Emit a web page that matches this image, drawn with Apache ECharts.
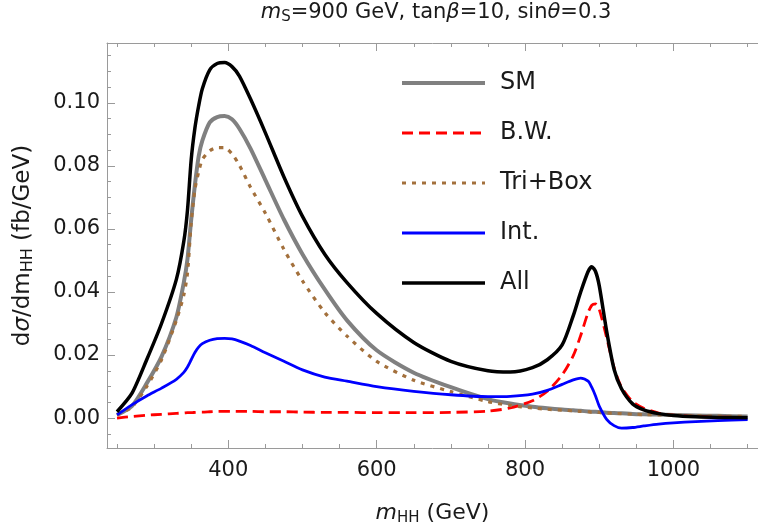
<!DOCTYPE html>
<html>
<head>
<meta charset="utf-8">
<script src="https://cdn.jsdelivr.net/npm/echarts@6/dist/echarts.min.js"></script>
<style>
html,body{margin:0;padding:0;background:#fff;}
#chart{width:758px;height:531px;}
</style>
</head>
<body>
<div id="chart"></div>
<script>
// ---- data ----
const mass = [250,270,290,310,330,340,345,350,355,360,365,375,385,395,405,415,430,450,475,500,530,560,600,650,700,750,780,810,830,850,865,875,885,890,895,900,910,920,930,945,960,980,1000,1030,1060,1100];

const smValues = [0.001,0.0038,0.011,0.0195,0.032,0.043,0.0505,0.063,0.074,0.083,0.088,0.0938,0.0955,0.0958,0.0948,0.0918,0.0855,0.0755,0.063,0.052,0.0408,0.031,0.0215,0.0144,0.0098,0.006,0.0046,0.0036,0.0031,0.0027,0.0025,0.0023,0.0021,0.002,0.002,0.0019,0.0017,0.0016,0.0015,0.0013,0.0012,0.0011,0.001,0.0008,0.0007,0.0005];

const bwValues = [0.0,0.0005,0.0009,0.0012,0.0015,0.0016,0.0017,0.0017,0.0018,0.0019,0.0019,0.002,0.0021,0.0021,0.0021,0.0021,0.0021,0.002,0.002,0.0019,0.0018,0.0018,0.0017,0.0017,0.0018,0.0022,0.0032,0.0055,0.0085,0.0137,0.0198,0.0262,0.0335,0.0358,0.0362,0.0345,0.0255,0.016,0.0098,0.0052,0.0031,0.0016,0.0009,0.0005,0.0003,0.0002];

const triBoxValues = [0.001,0.0035,0.010,0.0185,0.031,0.039,0.046,0.062,0.0725,0.078,0.082,0.0848,0.0858,0.0858,0.0838,0.0802,0.0732,0.065,0.0535,0.0435,0.0335,0.026,0.018,0.012,0.0084,0.0052,0.004,0.0032,0.0028,0.0025,0.0023,0.0021,0.002,0.0019,0.0019,0.0018,0.0016,0.0015,0.0014,0.0012,0.0011,0.001,0.0009,0.0007,0.0006,0.0005];

const intValues = [0.001,0.0042,0.007,0.0095,0.0123,0.0145,0.0162,0.0185,0.0208,0.0225,0.0236,0.0247,0.0252,0.0253,0.0251,0.0244,0.023,0.0207,0.018,0.0153,0.013,0.0117,0.010,0.0085,0.0074,0.0068,0.0069,0.0076,0.0088,0.0107,0.0121,0.0127,0.0117,0.0097,0.007,0.0038,-0.0004,-0.0024,-0.0032,-0.003,-0.0025,-0.0019,-0.0015,-0.0011,-0.0008,-0.0005];

const allValues = [0.002,0.0078,0.0185,0.030,0.044,0.056,0.066,0.082,0.092,0.099,0.1045,0.1105,0.1125,0.1128,0.1115,0.1085,0.1012,0.0905,0.0765,0.064,0.052,0.043,0.0332,0.024,0.018,0.015,0.0146,0.016,0.0185,0.0232,0.0325,0.040,0.0465,0.048,0.0465,0.042,0.0275,0.0155,0.0093,0.0045,0.0026,0.0014,0.0008,0.0004,0.0002,0.0001];

const seriesNames = ['SM','B.W.','Tri+Box','Int.','All'];

const xMajorTicks = [400,600,800,1000];
const xMinorTicks = [250,300,350,450,500,550,650,700,750,850,900,950,1050,1100];
const yMajorTicks = [0,0.02,0.04,0.06,0.08,0.10];
const yMinorTicks = [-0.005,0.005,0.01,0.015,0.025,0.03,0.035,0.045,0.05,0.055,0.065,0.07,0.075,0.085,0.09,0.095,0.105,0.11,0.115];

// ---- chart ----
const FONT = 'DejaVu Sans';
const frameColor = '#9a9a9a';
const textColor = '#1a1a1a';
const X_MIN = 236.5, X_MAX = 1114, Y_MIN = -0.0095, Y_MAX = 0.119;

function pairs(vals){ return mass.map((m,i)=>[m, vals[i]]); }

function xAx(pos, ticks, len, withLabels, withLine){
  return {
    type:'value', position:pos, min:X_MIN, max:X_MAX, gridIndex:0,
    splitLine:{show:false},
    axisLine:{show:withLine, onZero:false, lineStyle:{color:frameColor,width:1}},
    axisTick:{show:true, inside:true, length:len, customValues:ticks, lineStyle:{color:frameColor,width:1}},
    axisLabel:{show:withLabels, customValues:ticks, margin:12, color:textColor, fontFamily:FONT, fontSize:21,
      formatter:v=>String(Math.round(v))}
  };
}
function yAx(ticks, len, withLabels, withLine){
  return {
    type:'value', position:'left', min:Y_MIN, max:Y_MAX, gridIndex:0,
    splitLine:{show:false},
    axisLine:{show:withLine, onZero:false, lineStyle:{color:frameColor,width:1}},
    axisTick:{show:true, inside:true, length:len, customValues:ticks, lineStyle:{color:frameColor,width:1}},
    axisLabel:{show:withLabels, customValues:ticks, margin:7, color:textColor, fontFamily:FONT, fontSize:21,
      formatter:v=>Number(v).toFixed(2)}
  };
}

const xAxes = [
  xAx('bottom', xMajorTicks, 8, true, true),
  xAx('bottom', xMinorTicks, 4, false, false),
  xAx('top', xMajorTicks, 8, false, true),
  xAx('top', xMinorTicks, 4, false, false)
];
Object.assign(xAxes[0], {
  name:'{i|m}{s|HH} (GeV)', nameLocation:'middle', nameGap:53,
  nameTextStyle:{fontFamily:FONT, fontSize:22, color:textColor,
    rich:{i:{fontFamily:FONT,fontStyle:'italic',fontSize:22,color:textColor},
          s:{fontFamily:FONT,fontSize:15,color:textColor,padding:[10,0,0,0]}}}
});
const yAxes = [
  yAx(yMajorTicks, 8, true, true),
  yAx(yMinorTicks, 4, false, false)
];
Object.assign(yAxes[0], {
  name:'d{i|σ}/dm{s|HH} (fb/GeV)', nameLocation:'middle', nameGap:71, nameRotate:90,
  nameTextStyle:{fontFamily:FONT, fontSize:23, color:textColor,
    rich:{i:{fontFamily:FONT,fontStyle:'italic',fontSize:23,color:textColor},
          s:{fontFamily:FONT,fontSize:16,color:textColor,padding:[10,0,0,0]}}}
});

const styles = [
  {color:'#808080', width:4, type:'solid'},
  {color:'#ff0000', width:2.8, type:[11,6]},
  {color:'#a3703c', width:3.2, type:[4,6]},
  {color:'#0000ff', width:2.8, type:'solid'},
  {color:'#000000', width:3.5, type:'solid'}
];
const valueSets = [smValues,bwValues,triBoxValues,intValues,allValues];

const series = seriesNames.map((n,i)=>({
  name:n, type:'line', xAxisIndex:0, yAxisIndex:0,
  data:pairs(valueSets[i]), showSymbol:false, symbol:'none',
  smooth:0.25,
  color:styles[i].color,
  lineStyle:{color:styles[i].color, width:styles[i].width, type:styles[i].type, cap:'butt', join:'round'},
  animation:false
}));

const chart = echarts.init(document.getElementById('chart'), null, {renderer:'canvas'});
chart.setOption({
  backgroundColor:'#ffffff',
  animation:false,
  grid:{left:107, right:-6, top:43, bottom:81, containLabel:false},
  xAxis:xAxes,
  yAxis:yAxes,
  legend:{
    data:seriesNames.map((n,i)=>({name:n, lineStyle:{color:styles[i].color, width:styles[i].width, type:styles[i].type, cap:'butt'}})),
    orient:'vertical', left:400, top:71, padding:0,
    itemWidth:83, itemHeight:24, itemGap:26,
    itemStyle:{opacity:0},
    textStyle:{fontFamily:FONT, fontSize:24, color:textColor, lineHeight:24, padding:[0,0,0,10]},
    selectedMode:false
  },
  graphic:[{
    type:'text', x:436, y:13,
    style:{
      text:'{i|m}{s|S}=900 GeV, tan{i|β}=10, sin{i|θ}=0.3',
      align:'center', verticalAlign:'middle',
      fontFamily:FONT, fontSize:21, fill:textColor,
      rich:{i:{fontFamily:FONT,fontStyle:'italic',fontSize:21,fill:textColor},
            s:{fontFamily:FONT,fontSize:15,fill:textColor,padding:[9,0,0,0]}}
    }
  }],
  series:series
});
</script>
</body>
</html>
